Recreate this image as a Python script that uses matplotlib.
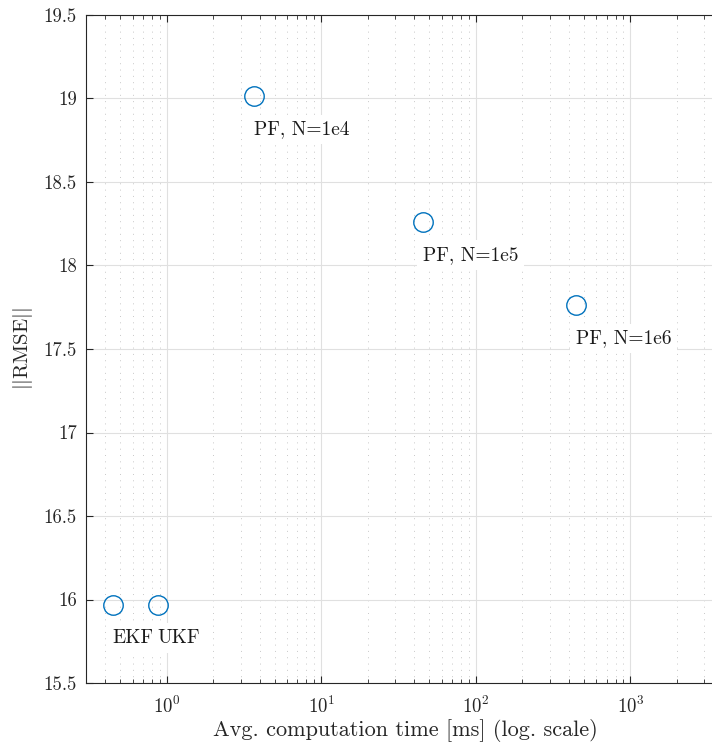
import matplotlib
matplotlib.use('Agg')
import matplotlib.pyplot as plt
from matplotlib.ticker import LogLocator, FuncFormatter

plt.rcParams['font.family'] = 'serif'
plt.rcParams['font.serif'] = ['cmr10', 'DejaVu Serif']
plt.rcParams['mathtext.fontset'] = 'cm'
plt.rcParams['axes.formatter.use_mathtext'] = True

# average computation time [ms] and RMSE norm per filter
filters = ['EKF', 'UKF', 'PF, N=1e4', 'PF, N=1e5', 'PF, N=1e6']
avg_time = [0.447, 0.875, 3.66, 45.4, 444.0]
rmse = [15.97, 15.97, 19.015, 18.263, 17.765]

y_ticks = [15.5, 16, 16.5, 17, 17.5, 18, 18.5, 19, 19.5]

fig = plt.figure(figsize=(7.12, 7.49), dpi=100)
# the axes run a little past the right edge of the figure
ax = fig.add_axes([0.1208, 0.0881, 0.8975, 0.8919])

ax.plot(avg_time, rmse, 'o', markersize=14, markerfacecolor='none',
        markeredgecolor='#0072BD', markeredgewidth=1.0, zorder=5)

for name, t, r in zip(filters, avg_time, rmse):
    ax.text(t, r - 0.2, name, ha='left', va='center', fontsize=14,
            color='#1a1a1a', zorder=4,
            bbox=dict(facecolor='white', edgecolor='none', pad=4))

ax.set_xscale('log')
ax.set_xlim(0.3, 4090)
ax.set_ylim(15.5, 19.5)
ax.set_yticks(y_ticks)
ax.yaxis.set_major_formatter(FuncFormatter(lambda v, p: '%g' % v))
ax.xaxis.set_major_locator(LogLocator(base=10, numticks=10))
ax.xaxis.set_minor_locator(LogLocator(base=10, subs=range(2, 10), numticks=20))

ax.grid(True, which='major', color='#e0e0e0', linewidth=0.8, linestyle='-')
ax.grid(True, which='minor', axis='x', color='#c8c8c8', linewidth=0.7,
        linestyle=(0, (1, 5.5)))
ax.set_axisbelow(True)

ax.tick_params(which='both', direction='in', top=True, right=False,
               colors='#262626', labelsize=13.5, labelcolor='#262626')
ax.tick_params(which='major', length=5)
ax.tick_params(which='minor', length=3)
ax.tick_params(axis='x', which='major', pad=9)
ax.tick_params(axis='y', which='major', pad=6.5)
for side in ['left', 'bottom', 'top']:
    ax.spines[side].set_color('#262626')
ax.spines['right'].set_visible(False)

ax.set_xlabel('Avg. computation time [ms] (log. scale)', fontsize=16,
              color='#262626', labelpad=2)
ax.set_ylabel(r'$||\mathrm{RMSE}||$', fontsize=15, color='#262626',
              labelpad=6)

fig.savefig('out.png', dpi=100, facecolor='white')
